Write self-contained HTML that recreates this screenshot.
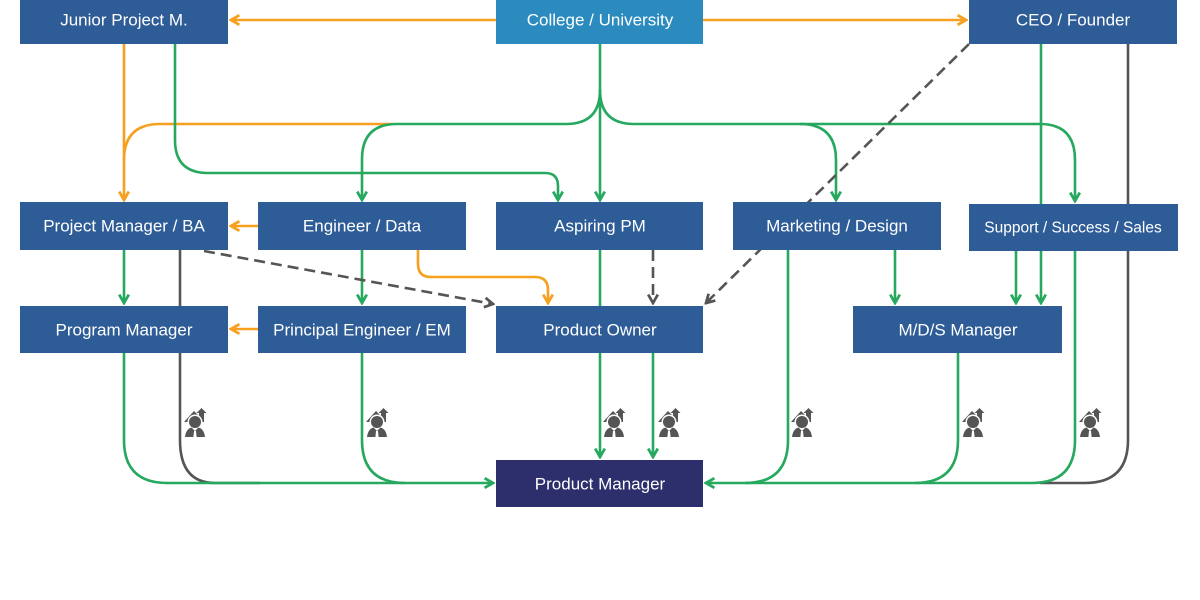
<!DOCTYPE html>
<html><head><meta charset="utf-8"><style>
html,body{margin:0;padding:0;background:#fff;}
svg{display:block;}
text{font-family:"Liberation Sans",sans-serif;fill:#fff;text-anchor:middle;dominant-baseline:central;}
</style></head><body>
<svg width="1200" height="600" viewBox="0 0 1200 600" xmlns="http://www.w3.org/2000/svg">
<defs>
<marker id="ag" viewBox="0 0 10 10" refX="8.5" refY="5" markerWidth="12" markerHeight="12" orient="auto-start-reverse" markerUnits="userSpaceOnUse"><path d="M1.5,1 L8.5,5 L1.5,9" fill="none" stroke="#27a85f" stroke-width="2.3"/></marker>
<marker id="ao" viewBox="0 0 10 10" refX="8.5" refY="5" markerWidth="12" markerHeight="12" orient="auto-start-reverse" markerUnits="userSpaceOnUse"><path d="M1.5,1 L8.5,5 L1.5,9" fill="none" stroke="#f5a01f" stroke-width="2.3"/></marker>
<marker id="ad" viewBox="0 0 10 10" refX="8.5" refY="5" markerWidth="12" markerHeight="12" orient="auto-start-reverse" markerUnits="userSpaceOnUse"><path d="M1.5,1 L8.5,5 L1.5,9" fill="none" stroke="#555" stroke-width="2.3"/></marker>
<g id="ic">
<path d="M1,14 L11,3 L16,8 L16,5 L13.5,5 L18.5,0 L23.5,5 L21,5 L21,14 Z" fill="#555"/>
<circle cx="12" cy="14" r="7.5" fill="#fff"/>
<circle cx="12" cy="14" r="6" fill="#555"/>
<path d="M2,29 Q3,21 8.5,19.5 L12,23 L15.5,19.5 Q21,21 22,29 Z" fill="#555"/>
<path d="M11,23 L13,23 L13.6,29 L10.4,29 Z" fill="#fff"/>
</g>
</defs>
<g fill="none" stroke-width="2.6">
<g stroke="#f5a01f">
<path d="M496 20 H231" marker-end="url(#ao)"/>
<path d="M703 20 H966" marker-end="url(#ao)"/>
<path d="M124 44 V200" marker-end="url(#ao)"/>
<path d="M392 124 H160 Q124 124 124 160"/>
<path d="M258 226 H231" marker-end="url(#ao)"/>
<path d="M418 250 V264 Q418 277 431 277 H535 Q548 277 548 290 V303" marker-end="url(#ao)"/>
<path d="M258 329 H231" marker-end="url(#ao)"/>
</g>
<g stroke="#555">
<path d="M180 250 V440 Q180 483 215 483 H260"/>
<path d="M1128 44 V440 Q1128 483 1085 483 H1040"/>
</g>
<g stroke="#27a85f">
<path d="M600 44 V200" marker-end="url(#ag)"/>
<path d="M600 90 Q600 124 566 124 H397 Q362 124 362 159 V200" marker-end="url(#ag)"/>
<path d="M600 90 Q600 124 634 124 H800 Q836 124 836 160 V200" marker-end="url(#ag)"/>
<path d="M800 124 H1040 Q1075 124 1075 160 V201" marker-end="url(#ag)"/>
<path d="M175 44 V140 Q175 173 208 173 H545 Q558 173 558 186 V200" marker-end="url(#ag)"/>
<path d="M1041 44 V204"/>
<path d="M1041 251 V303" marker-end="url(#ag)"/>
<path d="M1016 251 V303" marker-end="url(#ag)"/>
<path d="M124 250 V303" marker-end="url(#ag)"/>
<path d="M362 250 V303" marker-end="url(#ag)"/>
<path d="M600 250 V306"/>
<path d="M895 250 V303" marker-end="url(#ag)"/>
<path d="M600 353 V457" marker-end="url(#ag)"/>
<path d="M653 353 V457" marker-end="url(#ag)"/>
<path d="M124 353 V440 Q124 483 167 483 H493" marker-end="url(#ag)"/>
<path d="M362 353 V440 Q362 483 405 483"/>
<path d="M1075 251 V440 Q1075 483 1032 483 H706" marker-end="url(#ag)"/>
<path d="M788 250 V440 Q788 483 745 483"/>
<path d="M958 353 V440 Q958 483 915 483"/>
</g>
<g stroke="#555" stroke-dasharray="11,6">
<path d="M204 251 L493 304" marker-end="url(#ad)"/>
<path d="M653 250 V303" marker-end="url(#ad)"/>
<path d="M969 44 L706 303" marker-end="url(#ad)"/>
</g>
</g>
<g fill="#2e5c97">
<rect x="20" y="-2" width="208" height="46"/>
<rect x="969" y="-2" width="208" height="46"/>
<rect x="20" y="202" width="208" height="48"/>
<rect x="258" y="202" width="208" height="48"/>
<rect x="496" y="202" width="207" height="48"/>
<rect x="733" y="202" width="208" height="48"/>
<rect x="969" y="204" width="209" height="47"/>
<rect x="20" y="306" width="208" height="47"/>
<rect x="258" y="306" width="208" height="47"/>
<rect x="496" y="306" width="207" height="47"/>
<rect x="853" y="306" width="209" height="47"/>
</g>
<rect x="496" y="-2" width="207" height="46" fill="#2b8bbf"/>
<rect x="496" y="460" width="207" height="47" fill="#2c2f6b"/>
<g font-size="17">
<text x="124" y="20">Junior Project M.</text>
<text x="600" y="20">College / University</text>
<text x="1073" y="20">CEO / Founder</text>
<text x="124" y="226">Project Manager / BA</text>
<text x="362" y="226">Engineer / Data</text>
<text x="600" y="226">Aspiring PM</text>
<text x="837" y="226">Marketing / Design</text>
<text x="1073" y="228" font-size="15.5">Support / Success / Sales</text>
<text x="124" y="330">Program Manager</text>
<text x="362" y="330">Principal Engineer / EM</text>
<text x="600" y="330">Product Owner</text>
<text x="958" y="330">M/D/S Manager</text>
<text x="600" y="484">Product Manager</text>
</g>
<use href="#ic" x="183" y="408"/>
<use href="#ic" x="365" y="408"/>
<use href="#ic" x="602" y="408"/>
<use href="#ic" x="657" y="408"/>
<use href="#ic" x="790" y="408"/>
<use href="#ic" x="961" y="408"/>
<use href="#ic" x="1078" y="408"/>
</svg>
</body></html>
